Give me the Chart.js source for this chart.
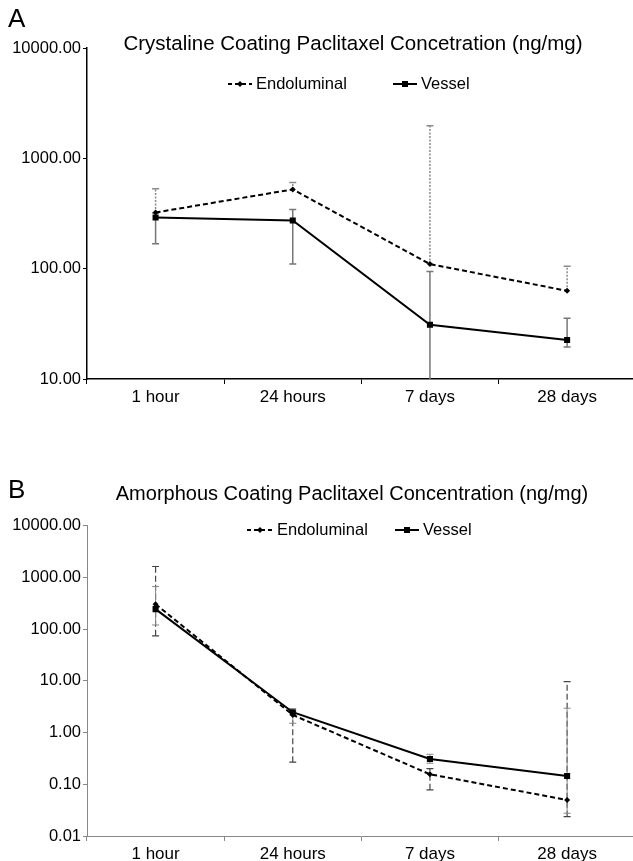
<!DOCTYPE html>
<html>
<head>
<meta charset="utf-8">
<script src="https://cdn.jsdelivr.net/npm/chart.js@4.4.0/dist/chart.umd.min.js"></script>
<style>
html,body{margin:0;padding:0;background:#fff;overflow:hidden;width:633px;height:861px;}
.wrap{position:absolute;left:0;width:640px;}
#w1{top:0;height:430px;}
#w2{top:430px;height:431px;}
</style>
</head>
<body>
<div class="wrap" id="w1"><canvas id="c1"></canvas></div>
<div class="wrap" id="w2"><canvas id="c2"></canvas></div>
<script>
const categories = ['1 hour', '24 hours', '7 days', '28 days'];

// Panel A: crystalline coating
const crysEndo      = [323, 523, 110, 63];
const crysEndoLow   = [323, 523, 110, 63];
const crysEndoHigh  = [530, 605, 1970, 105];
const crysVessel     = [291, 273, 31, 22.6];
const crysVesselLow  = [168, 110, 5, 19.5];
const crysVesselHigh = [320, 344, 94.5, 35.6];
const crysTicks = [10, 100, 1000, 10000];

// Panel B: amorphous coating
const amorEndo      = [303, 2.19, 0.156, 0.0497];
const amorEndoLow   = [74, 0.267, 0.078, 0.0236];
const amorEndoHigh  = [1618, 2.6, 0.2, 9.66];
const amorVessel     = [243, 2.47, 0.308, 0.145];
const amorVesselLow  = [120, 1.51, 0.255, 0.0275];
const amorVesselHigh = [664, 2.9, 0.38, 2.95];
const amorTicks = [0.01, 0.1, 1, 10, 100, 1000, 10000];

const FONT = '"Liberation Sans", Arial, sans-serif';

const errorBars = {
  id: 'errorBars',
  beforeDatasetsDraw(chart) {
    const ctx = chart.ctx, ca = chart.chartArea;
    const y = chart.scales.y;
    ctx.save();
    ctx.beginPath();
    ctx.rect(ca.left, ca.top - 10, ca.right - ca.left, ca.bottom - ca.top + 10);
    ctx.clip();
    chart.data.datasets.forEach((ds, i) => {
      const meta = chart.getDatasetMeta(i);
      const st = ds.errStyle;
      ctx.strokeStyle = st.color;
      ctx.lineWidth = st.width;
      meta.data.forEach((pt, j) => {
        const x = pt.x;
        const yl = y.getPixelForValue(ds.errLow[j]);
        const yh = y.getPixelForValue(ds.errHigh[j]);
        ctx.setLineDash(st.dash);
        ctx.beginPath();
        ctx.moveTo(x, yl); ctx.lineTo(x, yh); ctx.stroke();
        ctx.setLineDash([]);
        ctx.beginPath();
        if (ds.errLow[j] < ds.data[j]) { ctx.moveTo(x - 3.5, yl); ctx.lineTo(x + 3.5, yl); }
        if (ds.errHigh[j] > ds.data[j]) { ctx.moveTo(x - 3.5, yh); ctx.lineTo(x + 3.5, yh); }
        ctx.stroke();
      });
    });
    ctx.restore();
  }
};

const deco = {
  id: 'deco',
  afterDraw(chart, args, o) {
    const ctx = chart.ctx;
    ctx.save();
    ctx.fillStyle = '#000';
    ctx.textBaseline = 'middle';
    ctx.textAlign = 'left';
    ctx.font = '26px ' + FONT;
    ctx.fillText(o.letter, o.letterX, o.letterY);
    ctx.font = o.titleSize + 'px ' + FONT;
    ctx.textAlign = 'center';
    ctx.fillText(o.title, o.titleX, o.titleY);
    // legend
    ctx.font = '16.5px ' + FONT;
    ctx.textAlign = 'left';
    const ly = o.legendY;
    ctx.strokeStyle = '#000';
    ctx.lineWidth = 2;
    ctx.setLineDash([4, 3]);
    ctx.beginPath(); ctx.moveTo(o.l1x, ly); ctx.lineTo(o.l1x + o.sw, ly); ctx.stroke();
    ctx.setLineDash([]);
    const cx1 = o.l1x + o.sw / 2;
    ctx.beginPath();
    ctx.moveTo(cx1, ly - 3); ctx.lineTo(cx1 + 3, ly); ctx.lineTo(cx1, ly + 3); ctx.lineTo(cx1 - 3, ly); ctx.closePath();
    ctx.fill();
    ctx.fillText('Endoluminal', o.l1x + o.sw + 4, ly);
    ctx.beginPath(); ctx.moveTo(o.l2x, ly); ctx.lineTo(o.l2x + 24, ly); ctx.stroke();
    ctx.fillRect(o.l2x + 12 - 3, ly - 3, 6, 6);
    ctx.fillText('Vessel', o.l2x + 28, ly);
    ctx.restore();
  }
};

function makeChart(id, cfg) {
  const datasets = [
    {
      label: 'Endoluminal', data: cfg.endo, errLow: cfg.endoLow, errHigh: cfg.endoHigh,
      errStyle: cfg.endoErr,
      borderColor: '#000', backgroundColor: '#000', borderWidth: 2, borderDash: [5, 3],
      pointStyle: 'rectRot', pointRadius: 3, pointBorderWidth: 0, tension: 0
    },
    {
      label: 'Vessel', data: cfg.vessel, errLow: cfg.vesselLow, errHigh: cfg.vesselHigh,
      errStyle: cfg.vesselErr,
      borderColor: '#000', backgroundColor: '#000', borderWidth: 2,
      pointStyle: 'rect', pointRadius: 4.3, pointBorderWidth: 0, tension: 0
    }
  ];
  return new Chart(document.getElementById(id), {
    type: 'line',
    data: { labels: categories, datasets },
    plugins: [errorBars, deco],
    options: {
      responsive: true,
      maintainAspectRatio: false,
      animation: false,
      events: [],
      layout: { padding: { top: cfg.padTop, left: 0, right: 0, bottom: 0 } },
      plugins: {
        legend: { display: false },
        title: { display: false },
        tooltip: { enabled: false },
        deco: cfg.deco
      },
      scales: {
        x: {
          type: 'category',
          offset: true,
          grid: { display: true, offset: true, drawOnChartArea: false, drawTicks: true, tickLength: 5, color: cfg.axisColor, lineWidth: 1 },
          border: { display: true, color: cfg.axisColor, width: cfg.axisWidth },
          ticks: { color: '#000', font: { family: FONT, size: 17 }, padding: 3, maxRotation: 0 },
          afterFit(s) { s.height = cfg.xHeight; }
        },
        y: {
          type: 'logarithmic',
          min: cfg.ticks[0],
          max: cfg.ticks[cfg.ticks.length - 1],
          afterBuildTicks(s) { s.ticks = cfg.ticks.map(v => ({ value: v, major: true })); },
          grid: { display: true, drawOnChartArea: false, drawTicks: true, tickLength: 4, color: cfg.axisColor, lineWidth: 1 },
          border: { display: true, color: cfg.axisColor, width: cfg.axisWidth },
          ticks: { color: '#000', font: { family: FONT, size: 16.5 }, padding: 2, callback: v => Number(v).toFixed(2) },
          afterFit(s) { s.width = 87; }
        }
      }
    }
  });
}

makeChart('c1', {
  endo: crysEndo, endoLow: crysEndoLow, endoHigh: crysEndoHigh,
  vessel: crysVessel, vesselLow: crysVesselLow, vesselHigh: crysVesselHigh,
  ticks: crysTicks,
  endoErr: { color: '#8a8a8a', width: 1.5, dash: [2, 1.5] },
  vesselErr: { color: '#777', width: 1.5, dash: [] },
  axisColor: '#000', axisWidth: 1.5,
  padTop: 48, xHeight: 51,
  deco: { letter: 'A', letterX: 8, letterY: 20, title: 'Crystaline Coating Paclitaxel Concetration (ng/mg)', titleSize: 20.5, titleX: 353, titleY: 44,
          legendY: 84, l1x: 228, sw: 24, l2x: 393 }
});

makeChart('c2', {
  endo: amorEndo, endoLow: amorEndoLow, endoHigh: amorEndoHigh,
  vessel: amorVessel, vesselLow: amorVesselLow, vesselHigh: amorVesselHigh,
  ticks: amorTicks,
  endoErr: { color: '#444', width: 1.2, dash: [6, 3] },
  vesselErr: { color: '#888', width: 1, dash: [] },
  axisColor: '#888', axisWidth: 1,
  padTop: 95.6, xHeight: 25,
  deco: { letter: 'B', letterX: 8, letterY: 61, title: 'Amorphous Coating Paclitaxel Concentration (ng/mg)', titleSize: 20, titleX: 352, titleY: 64,
          legendY: 100, l1x: 247, sw: 26, l2x: 395 }
});
</script>
</body>
</html>
